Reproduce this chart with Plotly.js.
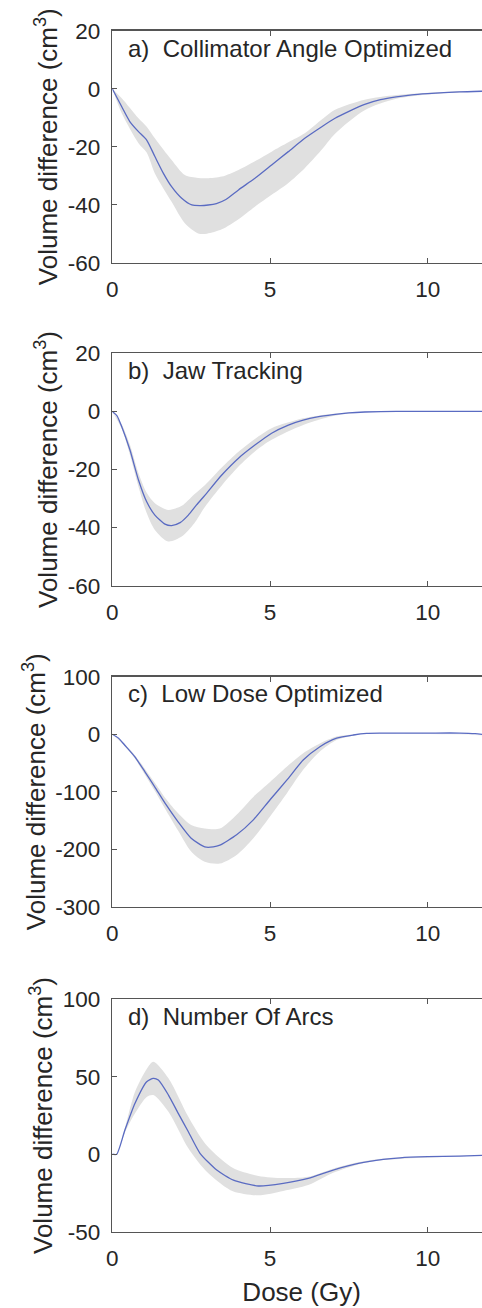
<!DOCTYPE html>
<html>
<head>
<meta charset="utf-8">
<script src="https://cdn.plot.ly/plotly-3.0.1.min.js"></script>
<style>
html,body{margin:0;padding:0;overflow:hidden;background:#fff;}
#chart{width:500px;height:1308px;}
</style>
</head>
<body>
<div id="chart"></div>
<script>
// ---- Data ----
const panelLabels = ["a)\u00a0\u00a0Collimator Angle Optimized", "b)\u00a0\u00a0Jaw Tracking", "c)\u00a0\u00a0Low Dose Optimized", "d)\u00a0\u00a0Number Of Arcs"];
const yTitle = "Volume difference (cm<sup>3</sup>)";
const xTitle = "Dose (Gy)";
const xTicks = [0, 5, 10];

// Panel a
const meanX_a = [0, 0.3, 0.56, 0.83, 1.09, 1.35, 1.62, 1.88, 2.2, 2.52, 2.8, 3.04, 3.3, 3.6, 4.0, 4.52, 5.05, 5.58, 6.1, 6.64, 7.06, 7.5, 8, 8.5, 9, 9.5, 10, 11, 12];
const meanY_a = [0, -6.2, -11.4, -14.8, -17.7, -23.4, -29.2, -33.8, -37.8, -40.1, -40.3, -40.1, -39.6, -38.2, -34.9, -30.9, -26.3, -21.7, -17.1, -13.1, -10.2, -7.8, -5.4, -3.8, -2.8, -2.1, -1.7, -1.1, -0.8];
const bandX_a = [0, 0.3, 0.83, 1.09, 1.35, 1.88, 2.3, 2.72, 3.0, 3.47, 4.0, 4.52, 5.05, 5.58, 6.1, 6.6, 7.06, 8, 9, 10, 11, 12];
const upper_a = [0, -3.3, -10.2, -13.1, -17.1, -24.6, -29.8, -30.8, -30.9, -30.3, -28, -25, -21.7, -18.5, -15.4, -11, -7.3, -3.8, -2.2, -1.4, -0.9, -0.7];
const lower_a = [0, -8.5, -18.8, -22, -29.2, -39, -46.4, -49.9, -50, -48.5, -45, -40.7, -36.6, -32.5, -27.4, -21.5, -15.5, -7.4, -3.5, -2, -1.3, -0.9];

// Panel b
const meanX_b = [0, 0.15, 0.3, 0.56, 0.83, 1.09, 1.35, 1.67, 1.88, 2.15, 2.41, 2.67, 2.94, 3.47, 4.0, 4.52, 5.05, 5.58, 6.05, 6.5, 7, 7.5, 8, 9, 10, 11, 12];
const meanY_b = [0, -1.5, -5.3, -13.3, -23.6, -31.1, -35.7, -38.8, -39.3, -38.3, -35.7, -32.2, -28.8, -21.9, -16.1, -11.6, -7.5, -4.7, -3.0, -1.9, -1.1, -0.5, -0.2, 0, 0, 0, 0];
const bandX_b = [0, 0.3, 0.56, 0.83, 1.09, 1.35, 1.77, 2.2, 2.6, 2.94, 3.47, 4.0, 4.52, 5.05, 6.05, 7, 8, 12];
const upper_b = [0, -4.5, -11.5, -21.3, -28, -31.6, -33.9, -32.5, -28.5, -25.3, -19.3, -13.9, -9.5, -5.8, -2.4, -0.8, -0.1, 0];
const lower_b = [0, -6, -15, -25.9, -35, -40.8, -44.8, -43.1, -38.5, -32.8, -25.5, -19, -13.8, -9.8, -4.7, -1.6, -0.3, 0];

// Panel c
const meanX_c = [0, 0.2, 0.39, 0.71, 1.03, 1.34, 1.71, 2.08, 2.5, 2.93, 3.2, 3.41, 3.94, 4.47, 5.0, 5.53, 6.05, 6.58, 7.11, 7.64, 8.06, 8.5, 9, 10, 11, 11.5, 12];
const meanY_c = [0, -7, -18.8, -39, -65, -91, -123, -152, -181, -196, -196, -193, -175, -149, -114, -80, -45, -21.7, -7, -1.4, 1.5, 2, 2, 2, 2, 1, -2];
const bandX_c = [0, 0.39, 0.71, 1.03, 1.34, 1.71, 2.08, 2.5, 2.93, 3.41, 3.94, 4.47, 5.0, 5.53, 6.05, 6.58, 7.11, 7.64, 8.06, 12];
const upper_c = [0, -17, -36, -60, -84, -113, -137, -158, -164, -164, -140, -109, -83, -56.5, -33, -16, -4, -0.5, 1.5, -2];
const lower_c = [0, -20.5, -42, -70, -98, -133, -167, -204, -222, -225, -210, -181, -143, -103, -62, -30, -10, -2.5, 1.5, -2];

// Panel d
const meanX_d = [0, 0.14, 0.4, 0.72, 1.09, 1.3, 1.46, 1.78, 2.09, 2.41, 2.78, 3.31, 3.84, 4.63, 5.42, 6.21, 7.0, 7.8, 8.59, 9.12, 10, 11, 12];
const meanY_d = [0, 0, 15.6, 32.9, 46.8, 49, 47.9, 38.2, 26.4, 14.5, 0.6, -10.2, -16.7, -20.5, -18.8, -15.6, -10.2, -5.9, -3.3, -2.3, -1.6, -1.2, -0.6];
const bandX_d = [0, 0.14, 0.4, 0.72, 1.09, 1.3, 1.78, 2.41, 2.94, 3.47, 3.84, 4.63, 5.42, 6.21, 7.0, 7.8, 8.59, 12];
const upper_d = [0, 0, 17, 40.3, 55, 59.7, 49, 24.2, 7, -3.5, -9, -14, -15.4, -14.5, -9.3, -5.2, -2.8, -0.6];
const lower_d = [0, 0, 14, 26.4, 37, 38.2, 27.4, 3.8, -10.2, -19.5, -24, -26.5, -23.7, -19.9, -12, -6.6, -3.8, -0.6];

const yRanges = [[-60, 20], [-60, 20], [-300, 100], [-50, 100]];
const yTickVals = [[-60, -40, -20, 0, 20], [-60, -40, -20, 0, 20], [-300, -200, -100, 0, 100], [-50, 0, 50, 100]];

// ---- Build ----
const panels = [
  {mx: meanX_a, my: meanY_a, bx: bandX_a, up: upper_a, lo: lower_a},
  {mx: meanX_b, my: meanY_b, bx: bandX_b, up: upper_b, lo: lower_b},
  {mx: meanX_c, my: meanY_c, bx: bandX_c, up: upper_c, lo: lower_c},
  {mx: meanX_d, my: meanY_d, bx: bandX_d, up: upper_d, lo: lower_d}
];

const W = 500, H = 1308;
const plotLeft = 112.3, plotRight = 490.9;
const boxes = [[30.7, 262.7], [353.3, 585.7], [676.7, 906.7], [999.3, 1231.7]];

const textColor = '#262626';
const axisColor = '#555555';
const fillColor = '#e0e0e0';
const lineColor = '#5a6bc2';

const traces = [];
const layout = {
  width: W, height: H,
  margin: {l: 0, r: 0, t: 0, b: 0},
  paper_bgcolor: '#ffffff',
  plot_bgcolor: '#ffffff',
  showlegend: false,
  font: {family: 'Liberation Sans, Arial, sans-serif', color: textColor, size: 22},
  annotations: []
};

panels.forEach((p, i) => {
  const n = i + 1;
  const xa = 'x' + (n === 1 ? '' : n);
  const ya = 'y' + (n === 1 ? '' : n);
  traces.push({x: p.bx, y: p.lo, xaxis: xa, yaxis: ya, type: 'scatter', mode: 'lines',
    line: {width: 0, color: fillColor, shape: 'spline', smoothing: 0.8}, hoverinfo: 'skip'});
  traces.push({x: p.bx, y: p.up, xaxis: xa, yaxis: ya, type: 'scatter', mode: 'lines',
    fill: 'tonexty', fillcolor: fillColor, line: {width: 0, color: fillColor, shape: 'spline', smoothing: 0.8}, hoverinfo: 'skip'});
  traces.push({x: p.mx, y: p.my, xaxis: xa, yaxis: ya, type: 'scatter', mode: 'lines',
    line: {width: 1.3, color: lineColor, shape: 'spline', smoothing: 0.6}});

  const [top, bot] = boxes[i];
  const xKey = 'xaxis' + (n === 1 ? '' : n);
  const yKey = 'yaxis' + (n === 1 ? '' : n);
  const xAxis = {
    domain: [plotLeft / W, plotRight / W],
    anchor: ya,
    range: [0, 12],
    tickvals: xTicks,
    ticktext: xTicks.map(String),
    ticks: 'inside', ticklen: 5, tickcolor: axisColor, tickwidth: 1,
    showline: true, linecolor: axisColor, linewidth: 1.5, mirror: 'ticks',
    showgrid: false, zeroline: false,
    ticklabelstandoff: 6,
    tickfont: {size: 22.5, color: textColor}
  };
  if (n === 4) xAxis.title = {text: xTitle, font: {size: 26, color: textColor}, standoff: 12};
  layout[xKey] = xAxis;
  layout[yKey] = {
    domain: [(H - bot) / H, (H - top) / H],
    anchor: xa,
    range: yRanges[i],
    tickvals: yTickVals[i],
    ticktext: yTickVals[i].map(String),
    ticks: 'inside', ticklen: 5, tickcolor: axisColor, tickwidth: 1,
    showline: true, linecolor: axisColor, linewidth: 1.5, mirror: 'ticks',
    showgrid: false, zeroline: false,
    ticklabelstandoff: 6,
    tickfont: {size: 22.5, color: textColor},
    title: {text: yTitle, font: {size: 26, color: textColor}, standoff: 2}
  };
  layout.annotations.push({
    text: panelLabels[i], xref: xa + ' domain', yref: ya + ' domain',
    x: 0.036, y: 0.925, xanchor: 'left', yanchor: 'middle', showarrow: false,
    font: {size: 24, color: textColor}
  });
});

Plotly.newPlot('chart', traces, layout, {staticPlot: true, displayModeBar: false});
</script>
</body>
</html>
